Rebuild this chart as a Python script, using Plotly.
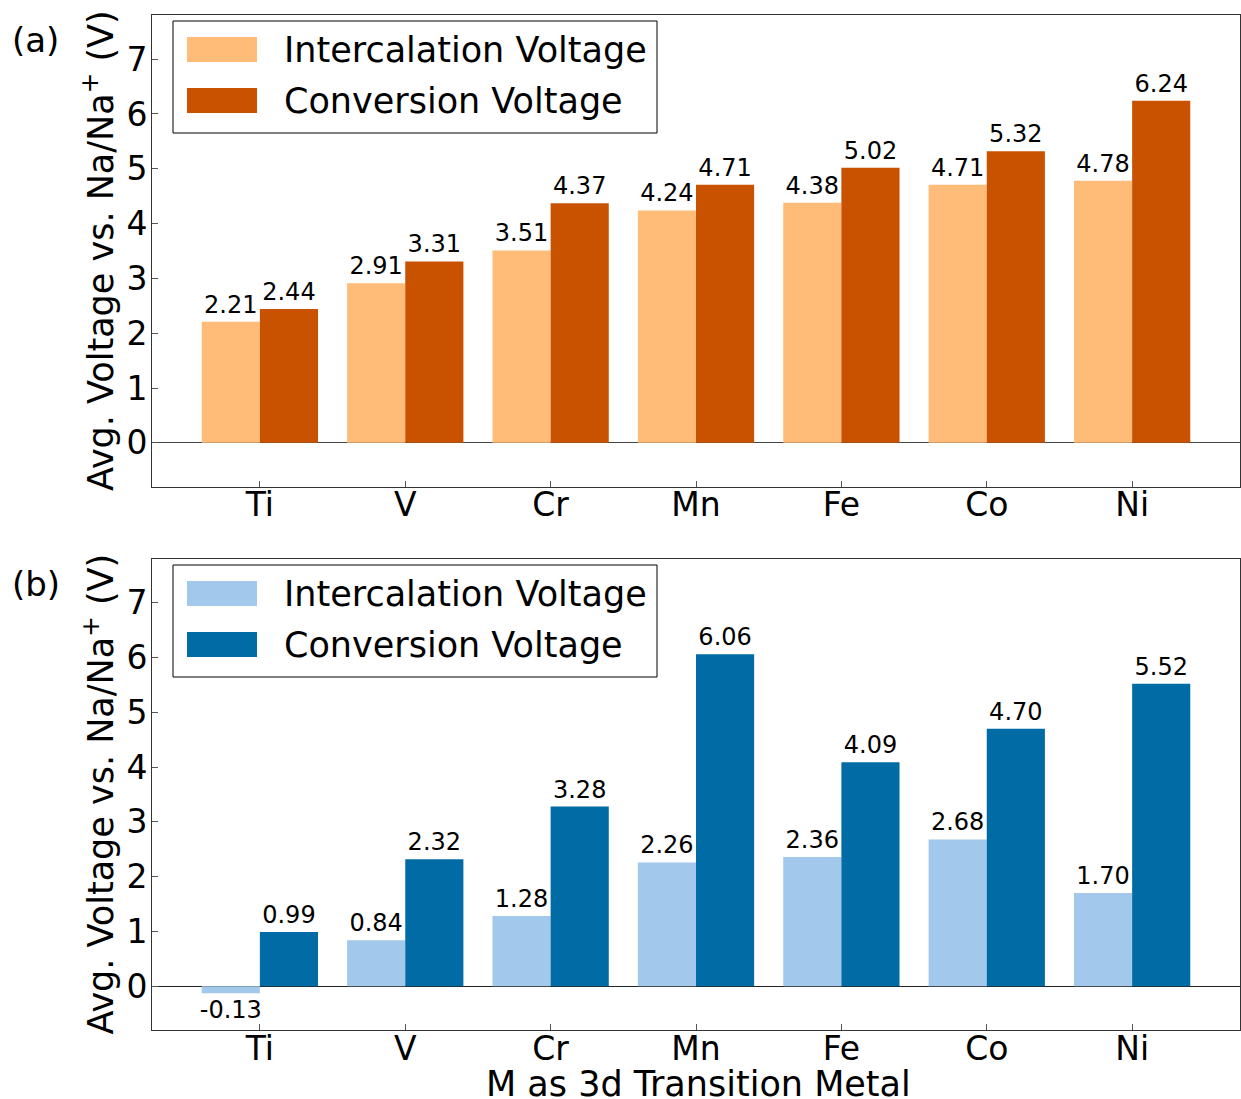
import plotly.graph_objects as go

metals = ["Ti", "V", "Cr", "Mn", "Fe", "Co", "Ni"]
a_intercalation = [2.21, 2.91, 3.51, 4.24, 4.38, 4.71, 4.78]
a_conversion = [2.44, 3.31, 4.37, 4.71, 5.02, 5.32, 6.24]
b_intercalation = [-0.13, 0.84, 1.28, 2.26, 2.36, 2.68, 1.70]
b_conversion = [0.99, 2.32, 3.28, 6.06, 4.09, 4.70, 5.52]
y_ticks = [0, 1, 2, 3, 4, 5, 6, 7]
series_names = ["Intercalation Voltage", "Conversion Voltage"]
panel_labels = ["(a)", "(b)"]
y_title = "Avg. Voltage vs. Na/Na<sup>+</sup> (V)"
x_title = "M as 3d Transition Metal"

colors_a = ["#FFBC79", "#C85200"]
colors_b = ["#A2C8EC", "#006BA4"]

W, H = 1241, 1099
ML, MR, MT, MB = 152, 1, 15, 69
PW = W - ML - MR
PH = H - MT - MB


def px(x):
    return (x - ML) / PW


def py(y):
    return (H - MB - y) / PH


FONT = "DejaVu Sans"
fig = go.Figure()

panels = [
    (a_intercalation, a_conversion, colors_a, "x", "y"),
    (b_intercalation, b_conversion, colors_b, "x2", "y2"),
]
for inter, conv, cols, xa, ya in panels:
    for vals, col, name in zip([inter, conv], cols, series_names):
        fig.add_trace(go.Bar(
            x=metals, y=vals, name=name, xaxis=xa, yaxis=ya,
            marker=dict(color=col, line=dict(width=0)),
            text=[f"{v:.2f}" for v in vals], textposition="outside",
            textfont=dict(size=24, color="black", family=FONT),
            constraintext="none", cliponaxis=False, showlegend=False,
        ))

top_dom = [py(486.7), py(15.3)]
bot_dom = [py(1030), py(559)]

axis_common = dict(showline=True, mirror=True, linecolor="#333", linewidth=1,
                   ticks="inside", ticklen=6, tickcolor="#555", tickwidth=1,
                   tickfont=dict(size=33, color="black", family=FONT),
                   showgrid=False)
xaxis_common = dict(domain=[0, 1], range=[-0.742, 6.742], ticklabelstandoff=-11, **axis_common)
yaxis_common = dict(range=[-0.8, 7.8], tickvals=y_ticks, ticklabelstandoff=-3,
                    zeroline=True, zerolinewidth=1, **axis_common)

fig.update_layout(
    width=W, height=H,
    margin=dict(l=ML, r=MR, t=MT, b=MB),
    plot_bgcolor="white", paper_bgcolor="white",
    barmode="group", bargap=0.2, bargroupgap=0,
    font=dict(family=FONT, color="black"),
    xaxis=dict(anchor="y", **xaxis_common),
    yaxis=dict(domain=top_dom, anchor="x", zerolinecolor="#444", **yaxis_common),
    xaxis2=dict(anchor="y2", **xaxis_common),
    yaxis2=dict(domain=bot_dom, anchor="x2", zerolinecolor="#222", **yaxis_common),
)

annotations = []
shapes = []
for (top, bot), lab, off in [((15.3, 486.7), panel_labels[0], 0), ((559, 1030), panel_labels[1], 544)]:
    annotations.append(dict(text=y_title, x=px(98), y=py((top + bot) / 2), xref="paper", yref="paper",
                            xanchor="center", yanchor="middle", textangle=-90, showarrow=False,
                            font=dict(size=35, family=FONT, color="black")))
    annotations.append(dict(text=lab, x=px(10), y=py(40 + off), xref="paper", yref="paper",
                            xanchor="left", yanchor="middle", showarrow=False,
                            font=dict(size=34, family=FONT, color="black")))
    shapes.append(dict(type="rect", xref="paper", yref="paper",
                       x0=px(173), x1=px(657), y0=py(21 + off), y1=py(133 + off),
                       line=dict(color="black", width=1), fillcolor="white", layer="above"))
    cols = colors_a if off == 0 else colors_b
    for i, (name, col) in enumerate(zip(series_names, cols)):
        cy = 49.5 + 51 * i + off
        shapes.append(dict(type="rect", xref="paper", yref="paper",
                           x0=px(187), x1=px(257), y0=py(cy + 12.5), y1=py(cy - 12.5),
                           line=dict(width=0), fillcolor=col, layer="above"))
        annotations.append(dict(text=name, x=px(282), y=py(cy), xref="paper", yref="paper",
                                xanchor="left", yanchor="middle", showarrow=False,
                                font=dict(size=35, family=FONT, color="black")))

annotations.append(dict(text=x_title, x=px(698), y=py(1084), xref="paper", yref="paper",
                        xanchor="center", yanchor="middle", showarrow=False,
                        font=dict(size=35, family=FONT, color="black")))

fig.update_layout(annotations=annotations, shapes=shapes)
fig.write_html("out.html")
